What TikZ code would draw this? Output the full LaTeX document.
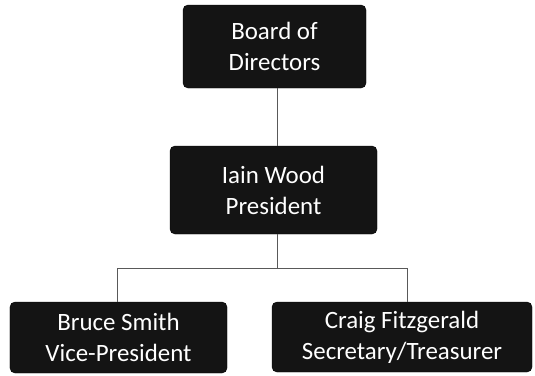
\documentclass[tikz,border=0pt]{standalone}
\usepackage{fontspec}
\setmainfont{Carlito}
\begin{document}
\begin{tikzpicture}[x=1bp,y=-1bp,
  orgbox/.style={draw=black, fill=black!92, rounded corners=5bp, text=white,
    align=center, inner sep=0pt, font=\fontsize{25}{31}\selectfont},
  link/.style={draw=black!65, line width=0.9bp}]
\useasboundingbox (0,0) rectangle (535,375);
\node[orgbox, minimum width=183bp, minimum height=83bp] (board) at (274.5,46.5) {Board of\\Directors};
\node[orgbox, minimum width=207bp, minimum height=88bp] (iain) at (273.5,190) {Iain Wood\\President};
\node[orgbox, minimum width=217bp, minimum height=71bp] (bruce) at (118.5,337.5) {Bruce Smith\\Vice-President};
\node[orgbox, minimum width=260bp, minimum height=70bp] (craig) at (402,337) {Craig Fitzgerald\\Secretary/Treasurer};
\coordinate (mid) at (277,268);
\coordinate (lft) at (117,268);
\coordinate (rgt) at (407,268);
\draw[link] (board.south -| mid) -- (iain.north -| mid);
\draw[link] (iain.south -| mid) -- (mid);
\draw[link] (bruce.north -| lft) -- (lft) -- (rgt) -- (craig.north -| rgt);
\end{tikzpicture}
\end{document}
